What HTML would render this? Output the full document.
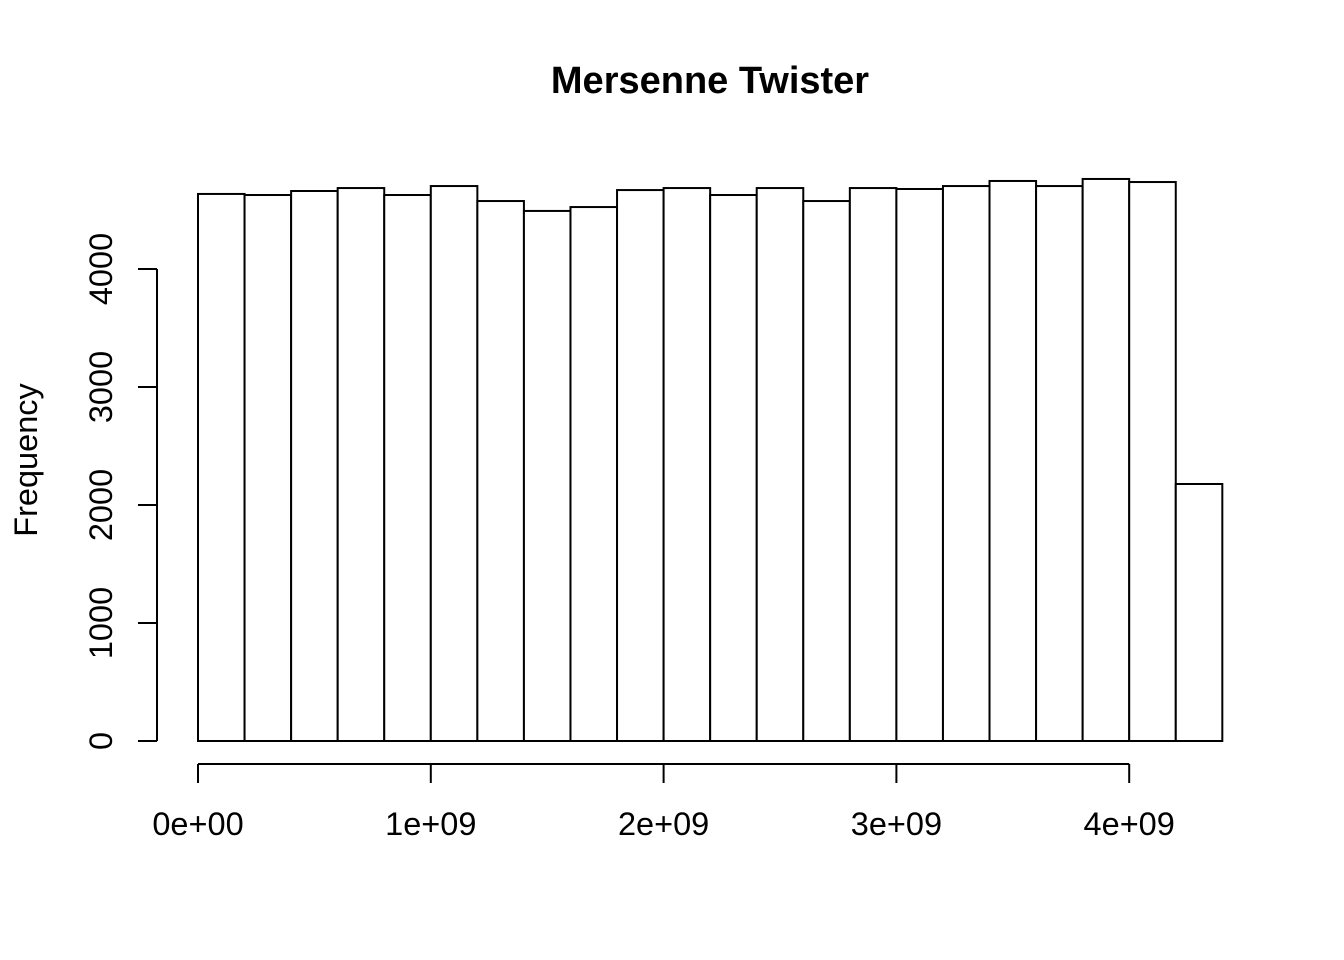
<!DOCTYPE html>
<html><head><meta charset="utf-8"><style>
html,body{margin:0;padding:0;background:#fff;}
svg{display:block;font-family:"Liberation Sans",Arial,sans-serif;}
</style></head><body>
<svg id="chart" width="1344" height="960" viewBox="0 0 1344 960" xmlns="http://www.w3.org/2000/svg">
<text x="710" y="93" text-anchor="middle" font-size="38" font-weight="bold">Mersenne Twister</text>
<text transform="translate(37,460) rotate(-90)" text-anchor="middle" font-size="32.5">Frequency</text>
<g id="bars"></g>
<g id="xaxis"></g>
<g id="yaxis"></g>
</svg>
<script>
const binWidth = 2e8;
const counts = [4636,4627,4661,4686,4627,4703,4576,4492,4525,4669,4686,4627,4686,4576,4686,4678,4703,4746,4703,4763,4737,2178];
const xTicks = [0,1e9,2e9,3e9,4e9];
const xTickLabels = ["0e+00","1e+09","2e+09","3e+09","4e+09"];
const yTicks = [0,1000,2000,3000,4000];
const yTickLabels = ["0","1000","2000","3000","4000"];

const NS = "http://www.w3.org/2000/svg";
const xs = v => 198 + v / 1e9 * 232.8;
const ys = v => 741 - v * 0.118;
function mk(tag, attrs, parent){const e=document.createElementNS(NS,tag);for(const k in attrs)e.setAttribute(k,attrs[k]);parent.appendChild(e);return e;}

const gb = document.getElementById('bars');
counts.forEach((c,i)=>{
  const x0 = xs(i*binWidth), x1 = xs((i+1)*binWidth);
  const r = mk('rect',{x:x0,y:ys(c),width:x1-x0,height:ys(0)-ys(c),fill:'#fff',stroke:'#000','stroke-width':2},gb);
  
  
});

const gx = document.getElementById('xaxis');
const xl = mk('line',{x1:xs(xTicks[0]),x2:xs(xTicks[xTicks.length-1]),y1:764,y2:764,stroke:'#000','stroke-width':2},gx);


xTicks.forEach((t,i)=>{
  const l = mk('line',{x1:xs(t),x2:xs(t),y1:764,y2:783,stroke:'#000','stroke-width':2},gx);
  
  
  const tx = mk('text',{x:xs(t),y:835,'text-anchor':'middle','font-size':32.5},gx);
  tx.textContent = xTickLabels[i];
  
  
});

const gy = document.getElementById('yaxis');
const yl = mk('line',{x1:157,x2:157,y1:ys(yTicks[0]),y2:ys(yTicks[yTicks.length-1]),stroke:'#000','stroke-width':2},gy);


yTicks.forEach((t,i)=>{
  const l = mk('line',{x1:138,x2:157,y1:ys(t),y2:ys(t),stroke:'#000','stroke-width':2},gy);
  
  
  const tx = mk('text',{transform:`translate(112,${ys(t)}) rotate(-90)`,'text-anchor':'middle','font-size':32.5},gy);
  tx.textContent = yTickLabels[i];
  
  
});
</script>
</body></html>
